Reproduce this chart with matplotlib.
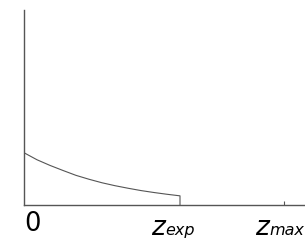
import matplotlib.pyplot as plt

# density curve (y scaled so the axis top is 1)
z = [0.0, 0.05, 0.1, 0.15, 0.2, 0.25, 0.3, 0.35, 0.4, 0.45, 0.5, 0.55, 0.6, 0.6]
p = [0.268, 0.232, 0.203, 0.177, 0.152, 0.132, 0.114, 0.099, 0.086, 0.074, 0.064, 0.055, 0.047, 0.0]

z_exp = 0.6
z_max = 1.0
subs = ["exp", "max"]
sub_pos = [z_exp, z_max]

fig = plt.figure(figsize=(3.05, 2.41), dpi=100)
ax = fig.add_axes([24 / 305, 36 / 241, 281 / 305, 195 / 241])

ax.plot(z, p, color="#555555", linewidth=0.8)

ax.set_xlim(0, 281 / 260)
ax.set_ylim(0, 1)
ax.spines["top"].set_visible(False)
ax.spines["right"].set_visible(False)
for s in ["left", "bottom"]:
    ax.spines[s].set_color("#555555")
    ax.spines[s].set_linewidth(1.0)

ax.set_yticks([])
ax.set_xticks([z_max])
ax.set_xticklabels([])
ax.tick_params(axis="x", direction="in", length=3, width=0.8, color="#555555")

tr = ax.get_xaxis_transform()
ax.annotate("0", xy=(0, 0), xycoords=tr, xytext=(6.0, -18.9), textcoords="offset points",
            ha="center", va="baseline", fontsize=18.5, color="black")

shifts = [-10.8, -10.8]
for x, sub, dx in zip(sub_pos, subs, shifts):
    ax.annotate("z", xy=(x, 0), xycoords=tr, xytext=(dx, -21.4), textcoords="offset points",
                ha="right", va="baseline", fontsize=19, style="italic", color="black")
    ax.annotate(sub, xy=(x, 0), xycoords=tr, xytext=(dx + 0.2, -21.4), textcoords="offset points",
                ha="left", va="baseline", fontsize=11.5, style="italic", color="black")

fig.savefig("out.png", dpi=100)
